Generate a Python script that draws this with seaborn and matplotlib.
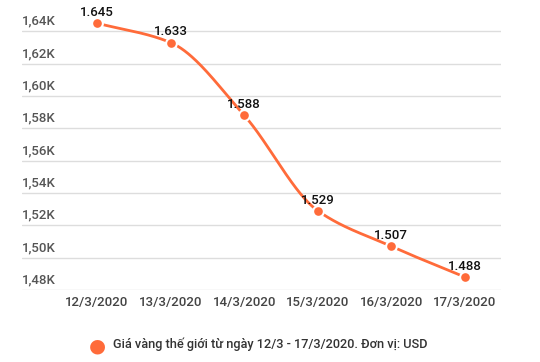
import numpy as np
import pandas as pd
import matplotlib
matplotlib.use("Agg")
import matplotlib.pyplot as plt
import seaborn as sns

dates = ["12/3/2020", "13/3/2020", "14/3/2020", "15/3/2020", "16/3/2020", "17/3/2020"]
prices = [1645, 1633, 1588, 1529, 1507, 1488]
point_labels = ["1.645", "1.633", "1.588", "1.529", "1.507", "1.488"]
ytick_vals = [1480, 1500, 1520, 1540, 1560, 1580, 1600, 1620, 1640]
ytick_labels = ["1,48K", "1,50K", "1,52K", "1,54K", "1,56K", "1,58K", "1,60K", "1,62K", "1,64K"]
legend_label = "Giá vàng thế giới từ ngày 12/3 - 17/3/2020. Đơn vị: USD"

sns.set_theme(style="white")
plt.rcParams['font.family'] = ['Roboto', 'DejaVu Sans']

color = "#FF6B3A"

def pchip(x, y, xs):
    x = np.asarray(x, float); y = np.asarray(y, float)
    h = np.diff(x); d = np.diff(y) / h
    n = len(x); m = np.zeros(n)
    m[0] = d[0]; m[-1] = d[-1]
    for k in range(1, n - 1):
        if d[k-1] * d[k] <= 0:
            m[k] = 0
        else:
            w1 = 2*h[k] + h[k-1]; w2 = h[k] + 2*h[k-1]
            m[k] = (w1 + w2) / (w1/d[k-1] + w2/d[k])
    out = np.empty_like(xs)
    for i, xv in enumerate(xs):
        k = min(max(np.searchsorted(x, xv) - 1, 0), n - 2)
        t = (xv - x[k]) / h[k]
        h00 = 2*t**3 - 3*t**2 + 1; h10 = t**3 - 2*t**2 + t
        h01 = -2*t**3 + 3*t**2; h11 = t**3 - t**2
        out[i] = h00*y[k] + h10*h[k]*m[k] + h01*y[k+1] + h11*h[k]*m[k+1]
    return out

xi = np.arange(len(dates))
xs = np.linspace(0, len(dates) - 1, 400)
curve = pd.DataFrame({"x": xs, "y": pchip(xi, prices, xs)})
pts = pd.DataFrame({"x": xi, "y": prices})

fig = plt.figure(figsize=(5.4, 3.62), dpi=100)
ax = fig.add_axes([22/540, (362-290)/362, (501-22)/540, 283/362])

for v in ytick_vals:
    ax.axhline(v, color="#dddddd", lw=1, zorder=0)

sns.lineplot(data=curve, x="x", y="y", ax=ax, color=color, lw=2, zorder=2)
sns.scatterplot(data=pts, x="x", y="y", ax=ax, color=color, s=60,
                edgecolor="white", linewidth=1.5, zorder=3)

for x, y, lab in zip(xi, prices, point_labels):
    ax.annotate(lab, (x, y), xytext=(0, 3), textcoords="offset points",
                ha="center", va="bottom", fontsize=9.5, color="#111111",
                fontweight="medium", zorder=4)

tr = ax.get_yaxis_transform()
for v, lab in zip(ytick_vals, ytick_labels):
    ax.text(0, v + 2.2, lab, transform=tr, ha="left", va="bottom",
            fontsize=9.5, color="#555555", fontweight="medium")

ax.set_xlim(-1.02, 5.49)
ax.set_ylim(1480, 1655)
ax.set_yticks([])
ax.set_xticks(xi)
ax.set_xticklabels(dates, fontsize=9.5, color="#444444", fontweight="medium")
ax.tick_params(axis="x", length=0, pad=4)
ax.set_xlabel(""); ax.set_ylabel("")
for s in ax.spines.values():
    s.set_visible(False)

fig.text(97/540, 1 - 346/362, "●", color=color, fontsize=14, ha="center", va="center")
fig.text(113/540, 1 - 344/362, legend_label, fontsize=9.2, color="#333333",
         ha="left", va="center", fontweight="medium")

fig.savefig("out.png", dpi=100)
